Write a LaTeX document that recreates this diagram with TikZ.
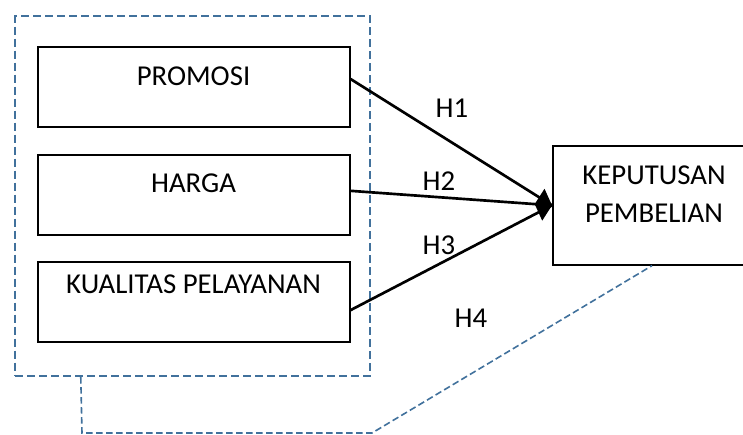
\documentclass[tikz,border=0pt]{standalone}
\usepackage{fontspec}
\setmainfont{Carlito}
\usetikzlibrary{arrows.meta,positioning}
\definecolor{garisbiru}{HTML}{41719C}
\tikzset{
  kotak/.style={draw=black,line width=1.5pt,minimum width=234pt,minimum height=60pt,inner sep=0pt},
  teks/.style={font=\fontsize{21.6}{28.5}\selectfont,inner sep=0pt,align=center},
  panah/.style={line width=2pt},
  putus/.style={draw=garisbiru,line width=1.6pt,dash pattern=on 6pt off 3pt},
  putustipis/.style={draw=garisbiru,line width=1.2pt,dash pattern=on 5pt off 2.5pt}
}
\begin{document}
\begin{tikzpicture}[x=0.75pt,y=-0.75pt]
\useasboundingbox (0,0) rectangle (743,435);
% kelompok variabel bebas
\node[putus,minimum width=266pt,minimum height=270pt] (grup) at (192.5,196) {};
\node[kotak] (promosi) at (193.5,87.5) {};
\node[kotak,below=19pt of promosi] (harga) {};
\node[kotak,below=19pt of harga] (kualitas) {};
\node[kotak,minimum width=165pt,minimum height=89pt,anchor=north west] (keputusan) at (552,145) {};
\node[teks,anchor=base] (tpromosi) at (193.5,86) {PROMOSI};
\node[teks,anchor=base] (tharga) at (193.5,192) {HARGA};
\node[teks,anchor=base] (tkualitas) at (193.5,293) {KUALITAS PELAYANAN};
\node[teks] (tkeputusan) at (654,194.5) {KEPUTUSAN\\PEMBELIAN};
% hipotesis
\draw[panah] ([yshift=6.4pt]promosi.east) -- (keputusan.west);
\draw[panah,-{Diamond[length=13pt,width=24pt]}] ([yshift=3pt]harga.east) -- (keputusan.west);
\draw[panah] ([yshift=-6pt]kualitas.east) -- (keputusan.west);
\node[teks] (h1) at (452,108) {H1};
\node[teks] (h2) at (439,181) {H2};
\node[teks] (h3) at (439,245) {H3};
\node[teks] (h4) at (471,318) {H4};
\coordinate (b1) at (82,433);
\coordinate (b2) at (372,433);
\draw[putustipis] ([xshift=50pt]grup.south west) -- (b1) -- (b2) -- ([xshift=75pt]keputusan.south west);
\end{tikzpicture}
\end{document}
